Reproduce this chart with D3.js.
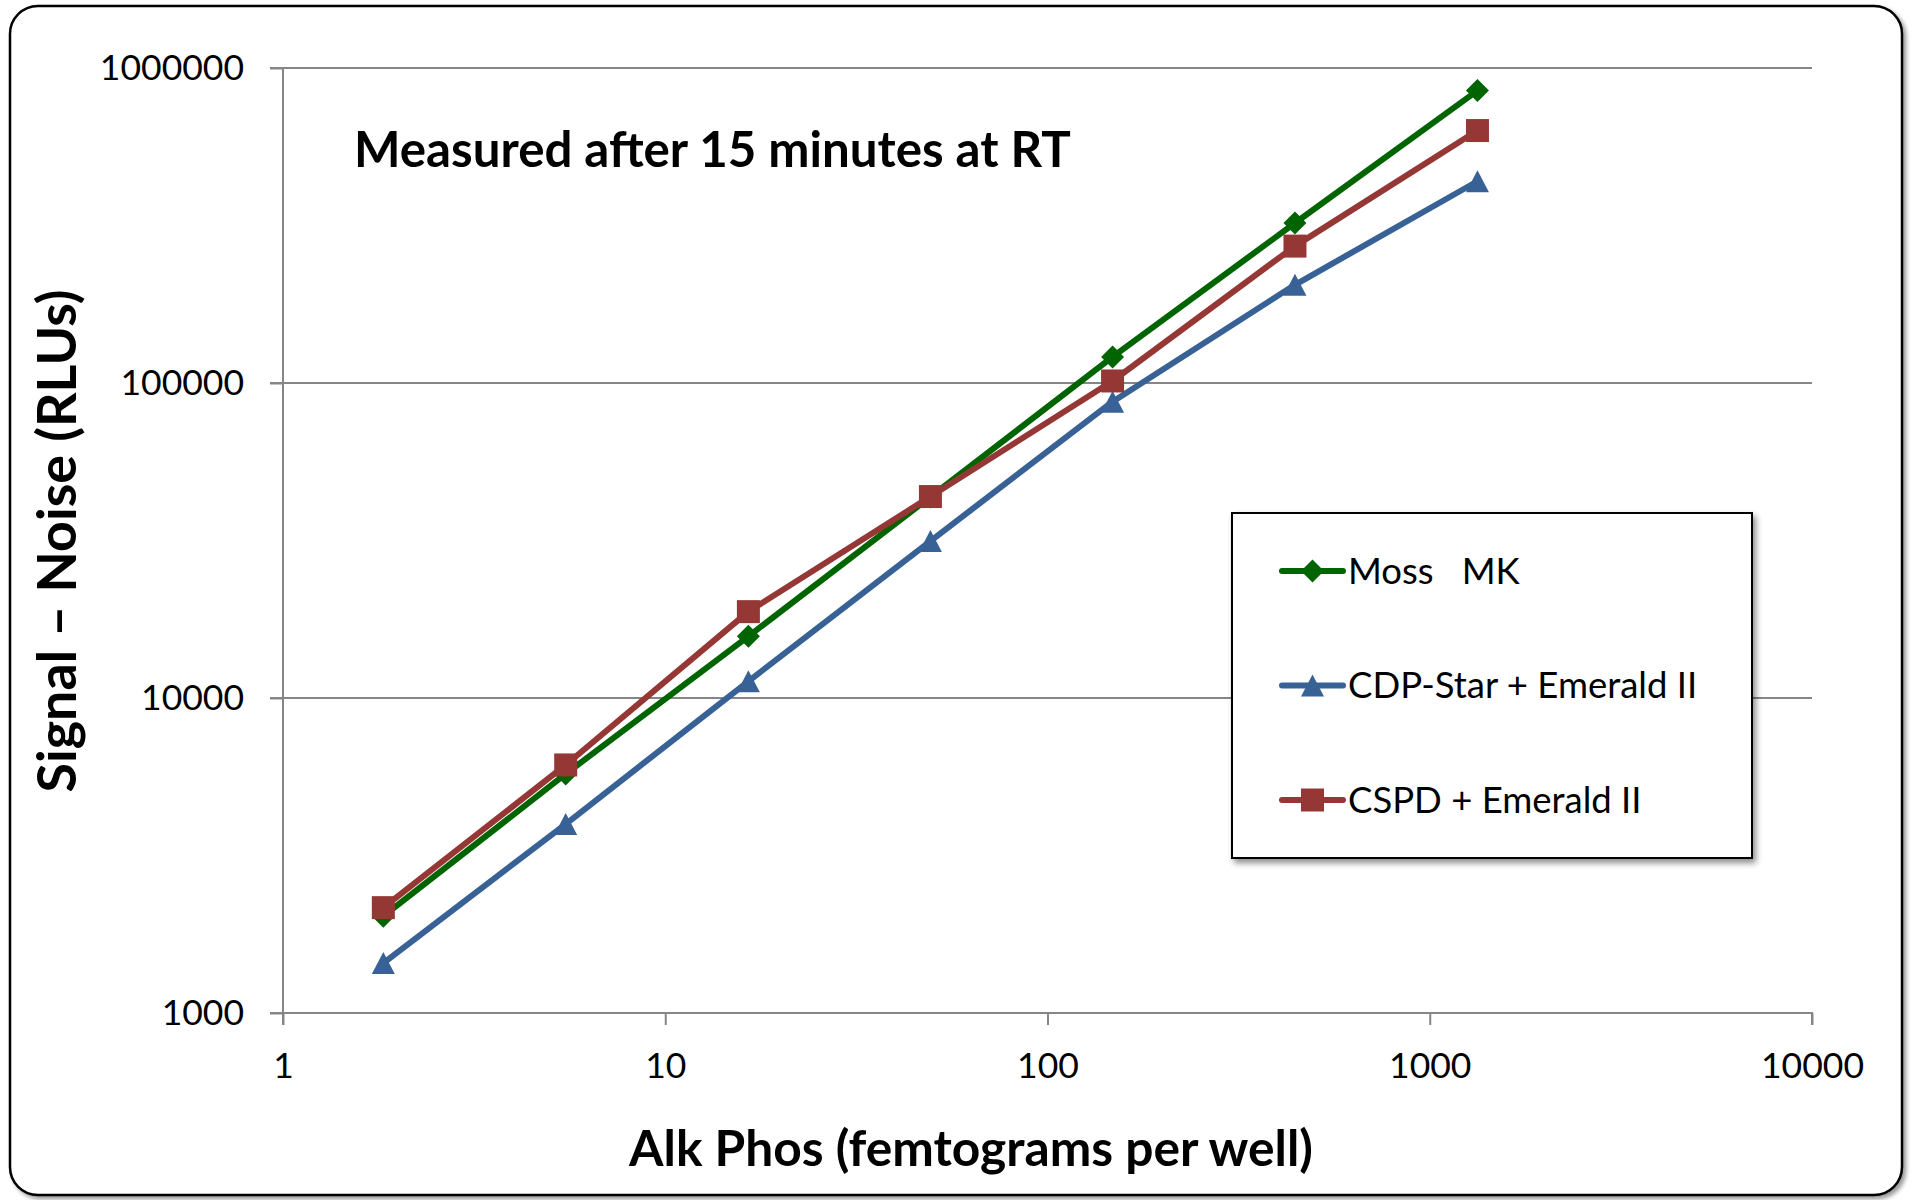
<!DOCTYPE html>
<html>
<head>
<meta charset="utf-8">
<script src="https://cdn.jsdelivr.net/npm/d3@7"></script>
<style>
  html, body { margin: 0; padding: 0; background: #ffffff; }
  svg { display: block; }
  text { font-family: Lato, "Open Sans", sans-serif; fill: #000; }
</style>
</head>
<body>
<svg id="chart" width="1912" height="1200"></svg>
<script>
// ---- data ----
const femtograms = [1.83, 5.49, 16.5, 49.4, 148, 444, 1333];
const mossMK     = [2030, 5740, 15700, 43500, 121000, 322000, 848000];
const cdpStar    = [1440, 3980, 11300, 31500, 87200, 205000, 437000];
const cspd       = [2160, 6130, 18800, 43600, 101500, 272000, 633000];
const seriesNames = ["Moss   MK", "CDP-Star + Emerald II", "CSPD + Emerald II"];
const xTicks = [1, 10, 100, 1000, 10000];
const yTicks = [1000, 10000, 100000, 1000000];
const chartTitle = "Measured after 15 minutes at RT";
const xTitle = "Alk Phos (femtograms per well)";
const yTitle = "Signal \u2013 Noise (RLUs)";

// ---- layout ----
const svg = d3.select("#chart");
const plot = { left: 283, right: 1812, top: 68, bottom: 1013 };
const x = d3.scaleLog().domain([1, 10000]).range([plot.left, plot.right]);
const y = d3.scaleLog().domain([1000, 1000000]).range([plot.bottom, plot.top]);
const axisColor = "#868686";

const defs = svg.append("defs");
const f1 = defs.append("filter").attr("id", "shadow").attr("x", "-10%").attr("y", "-10%").attr("width", "130%").attr("height", "130%");
f1.append("feDropShadow").attr("dx", 3).attr("dy", 4).attr("stdDeviation", 3).attr("flood-color", "#000").attr("flood-opacity", 0.45);
const f2 = defs.append("filter").attr("id", "shadow2").attr("x", "-5%").attr("y", "-5%").attr("width", "110%").attr("height", "110%");
f2.append("feDropShadow").attr("dx", 3).attr("dy", 3).attr("stdDeviation", 2).attr("flood-color", "#000").attr("flood-opacity", 0.4);

// outer rounded frame
svg.append("rect")
  .attr("x", 10).attr("y", 6).attr("width", 1892).attr("height", 1189)
  .attr("rx", 28).attr("ry", 28)
  .attr("fill", "#fff").attr("stroke", "#000").attr("stroke-width", 2.5)
  .attr("filter", "url(#shadow2)");

// horizontal gridlines
svg.append("g").selectAll("line").data(yTicks.slice(1)).join("line")
  .attr("x1", plot.left - 13).attr("x2", plot.right)
  .attr("y1", d => y(d)).attr("y2", d => y(d))
  .attr("stroke", axisColor).attr("stroke-width", 2);

// y axis
const yAxis = svg.append("g").attr("transform", `translate(${plot.left},0)`)
  .call(d3.axisLeft(y).tickValues(yTicks).tickFormat(d3.format("d")).tickSize(13).tickPadding(26));
// x axis
const xAxis = svg.append("g").attr("transform", `translate(0,${plot.bottom})`)
  .call(d3.axisBottom(x).tickValues(xTicks).tickFormat(d3.format("d")).tickSize(12).tickPadding(28));

[yAxis, xAxis].forEach(g => {
  g.select(".domain").attr("stroke", axisColor).attr("stroke-width", 2);
  g.selectAll(".tick line").attr("stroke", axisColor).attr("stroke-width", 2);
  g.selectAll(".tick text").attr("font-family", "Lato, sans-serif").attr("font-size", 35.5).attr("fill", "#000");
});
xAxis.select(".domain").attr("d", `M${plot.left},12V0H${plot.right}V12`);
yAxis.select(".domain").attr("d", `M-13,${plot.bottom}H0V${plot.top}H-13`);

// series
const series = [
  { name: seriesNames[0], values: mossMK, color: "#006400", marker: "diamond" },
  { name: seriesNames[1], values: cdpStar, color: "#386296", marker: "triangle" },
  { name: seriesNames[2], values: cspd, color: "#953735", marker: "square" }
];

function markerPath(type) {
  if (type === "diamond") return "M0,-11.5L11.5,0L0,11.5L-11.5,0Z";
  if (type === "triangle") return "M0,-11L11.5,11L-11.5,11Z";
  return "M-11.5,-11.5H11.5V11.5H-11.5Z";
}

const line = d3.line().x(d => x(d[0])).y(d => y(d[1]));
series.forEach(s => {
  const pts = femtograms.map((f, i) => [f, s.values[i]]);
  const g = svg.append("g");
  g.append("path").datum(pts).attr("d", line)
    .attr("fill", "none").attr("stroke", s.color).attr("stroke-width", 6)
    .attr("stroke-linejoin", "round").attr("stroke-linecap", "round");
  g.selectAll("path.m").data(pts).join("path").attr("class", "m")
    .attr("transform", d => `translate(${x(d[0])},${y(d[1])})`)
    .attr("d", markerPath(s.marker)).attr("fill", s.color);
});

// titles
function fit(sel, width) {
  const w = sel.node().getComputedTextLength();
  const fs = parseFloat(sel.attr("font-size"));
  sel.attr("font-size", fs * width / w);
}
const t = svg.append("text").attr("x", 354).attr("y", 167)
  .attr("font-weight", "bold").attr("font-size", 40).text(chartTitle);
fit(t, 717);

const xt = svg.append("text").attr("x", (629 + 1313) / 2).attr("y", 1166)
  .attr("text-anchor", "middle").attr("font-weight", "bold").attr("font-size", 40).text(xTitle);
fit(xt, 684);

const yt = svg.append("text").attr("transform", `translate(76,541) rotate(-90)`)
  .attr("text-anchor", "middle").attr("font-weight", "bold").attr("font-size", 40).text(yTitle);
fit(yt, 503);

// legend
const lg = svg.append("g");
lg.append("rect").attr("x", 1232).attr("y", 513).attr("width", 520).attr("height", 345)
  .attr("fill", "#fff").attr("stroke", "#000").attr("stroke-width", 2)
  .attr("filter", "url(#shadow)");
const ly = d3.scalePoint().domain(seriesNames).range([571, 800]);
series.forEach(s => {
  const yy = ly(s.name);
  lg.append("line").attr("x1", 1282).attr("x2", 1343).attr("y1", yy).attr("y2", yy)
    .attr("stroke", s.color).attr("stroke-width", 6).attr("stroke-linecap", "round");
  lg.append("path").attr("transform", `translate(1312.5,${yy})`).attr("d", markerPath(s.marker)).attr("fill", s.color);
  lg.append("text").attr("x", 1348).attr("y", yy).attr("dy", "0.35em")
    .attr("font-size", 36.5).style("white-space", "pre").text(s.name);
});
</script>
</body>
</html>
